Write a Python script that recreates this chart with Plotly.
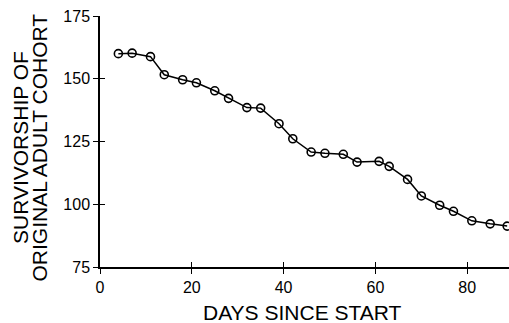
import plotly.graph_objects as go

days = [4, 7, 11, 14, 18, 21, 25, 28, 32, 35, 39, 42, 46, 49, 53, 56, 60.8, 63, 67, 70, 74, 77, 81, 85, 88.7]
survivors = [160, 160.2, 158.8, 151.6, 149.6, 148.4, 145.2, 142.2, 138.5, 138.3, 132.1, 126.1,
             120.8, 120.3, 119.9, 116.8, 117.1, 115.1, 109.9, 103.3, 99.6, 97.2, 93.4, 92.2, 91.3]
x_ticks = [0, 20, 40, 60, 80]
y_ticks = [75, 100, 125, 150, 175]
x_title = "DAYS SINCE START"
y_title_lines = ["SURVIVORSHIP OF", "ORIGINAL ADULT COHORT"]

FONT = "Liberation Sans, Arial, Helvetica, sans-serif"
XR = [0, 89.1]
YR = [75, 175]

fig = go.Figure()
fig.add_trace(go.Scatter(
    x=days, y=survivors, mode="lines+markers",
    line=dict(color="black", width=1.5),
    marker=dict(symbol="circle-open", size=8, color="black", line=dict(width=1.6)),
    showlegend=False,
))
# invisible trace for inner-tick overlay axes
fig.add_trace(go.Scatter(x=[None], y=[None], xaxis="x2", yaxis="y2", showlegend=False))

common = dict(showgrid=False, zeroline=False, color="black", ticklen=5, tickwidth=1.2, tickcolor="black")
fig.update_layout(
    width=509, height=323,
    margin=dict(l=100, r=0, t=16, b=56),
    paper_bgcolor="white", plot_bgcolor="white",
    font=dict(family=FONT, color="black"),
    xaxis=dict(range=XR, tickvals=x_ticks, ticks="outside", showline=True, linecolor="black",
               linewidth=1.5, tickfont=dict(size=16, family=FONT), **common),
    yaxis=dict(range=YR, tickvals=y_ticks, ticks="outside", showline=True, linecolor="black",
               linewidth=1.5, tickfont=dict(size=16, family=FONT), **common),
    xaxis2=dict(range=XR, tickvals=x_ticks, ticks="inside", overlaying="x", anchor="y2",
                showticklabels=False, showline=False, **common),
    yaxis2=dict(range=YR, tickvals=y_ticks, ticks="inside", overlaying="y", anchor="x2",
                showticklabels=False, showline=False, **common),
    annotations=[
        dict(text=y_title_lines[0], xref="paper", yref="paper", x=-0.1956, y=0.478,
             xanchor="center", yanchor="middle", textangle=-90, showarrow=False,
             font=dict(size=21, family=FONT, color="black")),
        dict(text=y_title_lines[1], xref="paper", yref="paper", x=-0.148, y=0.478,
             xanchor="center", yanchor="middle", textangle=-90, showarrow=False,
             font=dict(size=21, family=FONT, color="black")),
        dict(text=x_title, xref="paper", yref="paper", x=0.495, y=-0.183,
             xanchor="center", yanchor="middle", showarrow=False,
             font=dict(size=21, family=FONT, color="black")),
    ],
)

fig.write_html("out.html")
